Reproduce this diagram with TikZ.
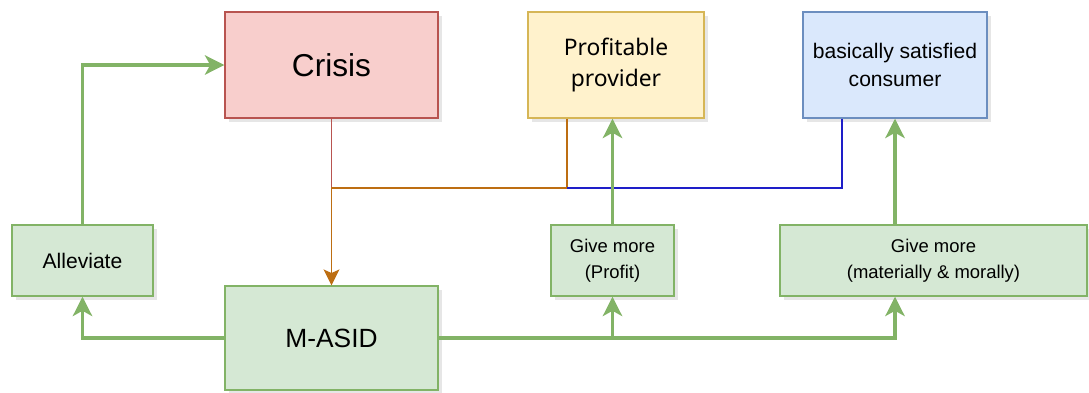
\documentclass[tikz,border=0pt]{standalone}
\usepackage{fontspec}
\setmainfont{Liberation Sans}
\newfontfamily\provfont{Noto Sans}
\usetikzlibrary{arrows.meta,shadows}

\definecolor{redfill}{HTML}{F8CECC}
\definecolor{redline}{HTML}{B85450}
\definecolor{yellowfill}{HTML}{FFF2CC}
\definecolor{yellowline}{HTML}{D6B656}
\definecolor{bluefill}{HTML}{DAE8FC}
\definecolor{blueline}{HTML}{6C8EBF}
\definecolor{greenfill}{HTML}{D5E8D4}
\definecolor{greenline}{HTML}{82B366}
\definecolor{orangeline}{HTML}{BD6E12}
\definecolor{darkblue}{HTML}{1E1EC8}

\begin{document}
\begin{tikzpicture}[box/.style={draw, line width=0.8pt, align=center, inner sep=2pt, drop shadow={opacity=0.2, shadow xshift=2pt, shadow yshift=-2pt}}, greenarrow/.style={draw=greenline, line width=2pt, -{Stealth[length=11pt, width=11pt, inset=3pt]}}]
	\useasboundingbox (0,0) rectangle (21.78,-7.84);
	\node (Crisis) [box, fill=redfill, draw=redline, minimum width=4.26cm, minimum height=2.12cm, font=\fontsize{18}{22}\selectfont] at (6.63,-1.30) {Crisis};
	\node (Provider) [box, fill=yellowfill, draw=yellowline, minimum width=3.52cm, minimum height=2.12cm, font=\provfont\fontsize{13}{18}\selectfont] at (12.32,-1.30) {Profitable\\ provider};
	\node (Consumer) [box, fill=bluefill, draw=blueline, minimum width=3.68cm, minimum height=2.12cm, font=\fontsize{12}{16}\selectfont] at (17.90,-1.30) {basically satisfied\\ consumer};
	\node (Alleviate) [box, fill=greenfill, draw=greenline, minimum width=2.82cm, minimum height=1.42cm, font=\fontsize{12}{14}\selectfont] at (1.65,-5.21) {Alleviate};
	\node (MASID) [box, fill=greenfill, draw=greenline, minimum width=4.26cm, minimum height=2.08cm, font=\fontsize{15}{18}\selectfont] at (6.63,-6.76) {M-ASID};
	\node (GiveProfit) [box, fill=greenfill, draw=greenline, minimum width=2.46cm, minimum height=1.42cm, font=\fontsize{10.5}{15}\selectfont] at (12.25,-5.21) {Give more\\ (Profit)};
	\node (GiveMoral) [box, fill=greenfill, draw=greenline, minimum width=6.14cm, minimum height=1.42cm, font=\fontsize{10.5}{15}\selectfont] at (18.67,-5.21) {Give more\\ (materially \& morally)};

	\coordinate (CrisisJoin) at (6.63,-3.76);
	\coordinate (ProviderJoin) at (11.34,-3.76);
	\coordinate (ConsumerJoin) at (16.84,-3.76);

	\draw[redline, line width=1pt] (Crisis.south) -- (CrisisJoin);
	\draw[orangeline, line width=1pt, -{Stealth[length=9pt, width=9pt, inset=2pt]}] (Provider.south -| ProviderJoin) -- (ProviderJoin) -- (CrisisJoin) -- (MASID.north);
	\draw[darkblue, line width=1pt] (Consumer.south -| ConsumerJoin) -- (ConsumerJoin) -- (ProviderJoin);

	\draw[greenarrow] (MASID.west) -| (Alleviate.south);
	\draw[greenarrow] (Alleviate.north) |- (Crisis.west);
	\draw[greenarrow] (MASID.east) -| (GiveProfit.south);
	\draw[greenarrow] (MASID.east) -| (GiveMoral.south -| Consumer.south);
	\draw[greenarrow] (GiveProfit.north) -- (GiveProfit.north |- Provider.south);
	\draw[greenarrow] (GiveMoral.north -| Consumer.south) -- (Consumer.south);
\end{tikzpicture}
\end{document}
